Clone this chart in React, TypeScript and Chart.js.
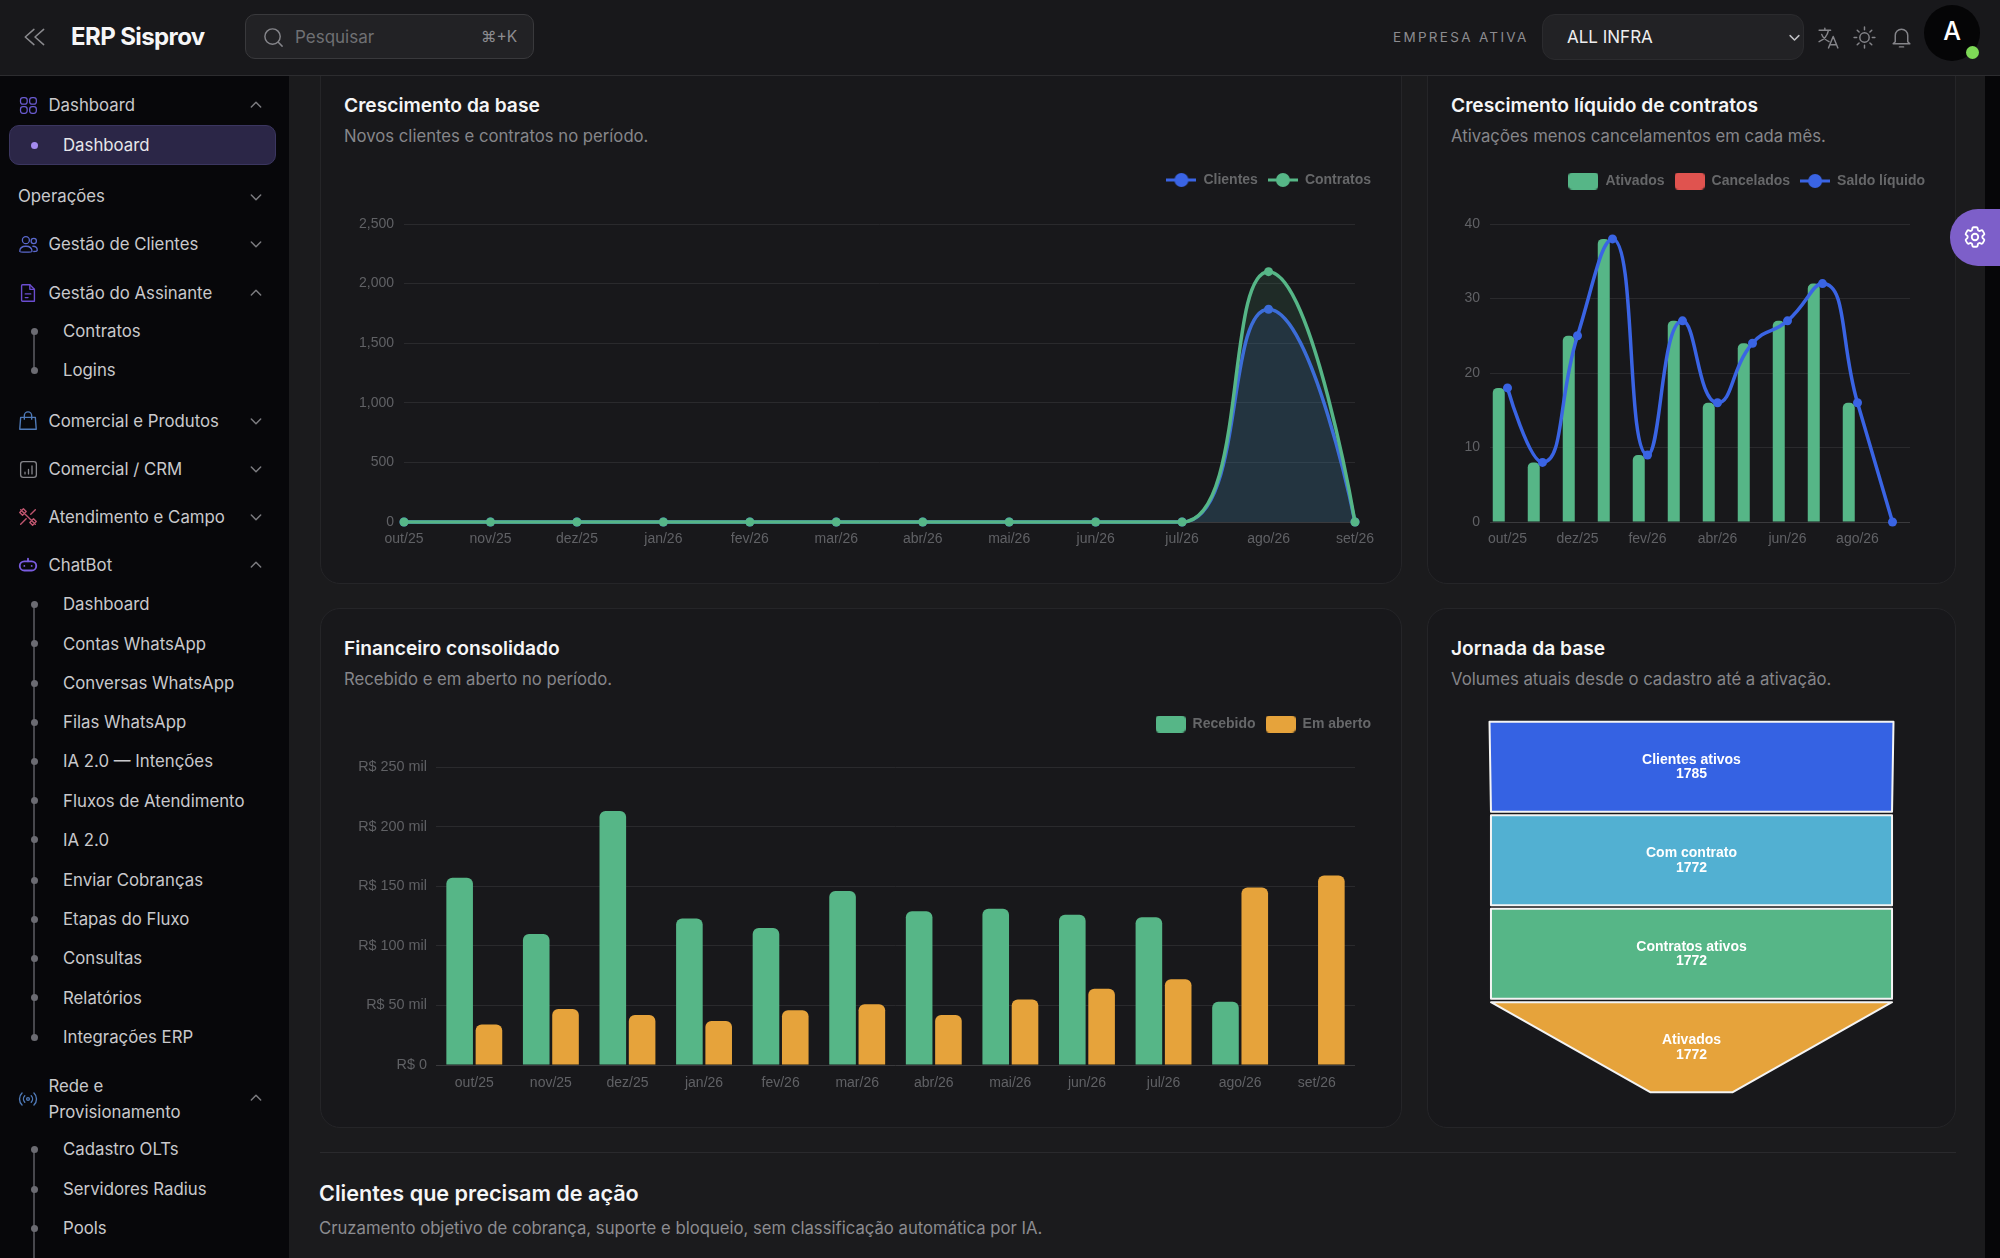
import React, { useEffect, useRef } from 'react';
import { Chart, registerables } from 'chart.js';

Chart.register(...registerables);

const months = ['out/25', 'nov/25', 'dez/25', 'jan/26', 'fev/26', 'mar/26', 'abr/26', 'mai/26', 'jun/26', 'jul/26', 'ago/26', 'set/26'];

const clientes = [0, 0, 0, 0, 0, 0, 0, 0, 0, 0, 1785, 0];
const contratos = [0, 0, 0, 0, 0, 0, 0, 0, 0, 0, 2100, 0];

const ativados = [18, 8, 25, 38, 9, 27, 16, 24, 27, 32, 16, 0];
const cancelados = [0, 0, 0, 0, 0, 0, 0, 0, 0, 0, 0, 0];
const saldoLiquido = [18, 8, 25, 38, 9, 27, 16, 24, 27, 32, 16, 0];

// R$ mil
const recebido = [157, 110, 213, 123, 115, 146, 129, 131, 126, 124, 53, null];
const emAberto = [34, 47, 42, 37, 46, 51, 42, 55, 64, 72, 149, 159];

const funnelLabels = ['Clientes ativos', 'Com contrato', 'Contratos ativos', 'Ativados'];
const funnelValues = [1785, 1772, 1772, 1772];
const funnelFloor = 361;

const BLUE = '#3a64e4';
const GREEN = '#56b687';
const ORANGE = '#e6a33b';
const RED = '#e0534f';
const SKY = '#52b0d2';
const funnelColors = ['#3562e3', SKY, GREEN, ORANGE];

const GRID = '#2a2a2d';
const AXIS = '#3a3a3d';
const TICK = '#606165';
const LEGEND = '#666769';
const CHART_FONT = "'Liberation Sans', Arial, sans-serif";
const UI_FONT = "Inter, 'Noto Sans', sans-serif";
const SMOOTH = 0.5;

function lineMark(color: string) {
  const c = document.createElement('canvas');
  c.width = 30;
  c.height = 16;
  const ctx = c.getContext('2d')!;
  ctx.strokeStyle = color;
  ctx.lineWidth = 3;
  ctx.beginPath();
  ctx.moveTo(0, 8);
  ctx.lineTo(30, 8);
  ctx.stroke();
  ctx.fillStyle = color;
  ctx.beginPath();
  ctx.arc(15, 8, 7, 0, Math.PI * 2);
  ctx.fill();
  return c;
}

function boxMark(color: string) {
  const c = document.createElement('canvas');
  c.width = 30;
  c.height = 17;
  const ctx = c.getContext('2d')!;
  ctx.fillStyle = color;
  ctx.beginPath();
  ctx.roundRect(0, 0, 30, 17, 4);
  ctx.fill();
  return c;
}

const legendOptions = {
  position: 'top' as const,
  align: 'end' as const,
  labels: {
    usePointStyle: true,
    pointStyleWidth: 30,
    padding: 10,
    color: LEGEND,
    font: { family: CHART_FONT, size: 14, weight: 'bold' as const },
    generateLabels: (chart: any) =>
      chart.data.datasets.map((d: any, i: number) => ({
        text: d.label,
        datasetIndex: i,
        fontColor: LEGEND,
        lineWidth: 0,
        hidden: false,
        pointStyle: d.type === 'line' ? lineMark(d.borderColor) : boxMark(d.backgroundColor),
      })),
  },
};

// the plot top is pushed down by the y scale padding, keep the legend at the canvas top
const legendOnTop = {
  id: 'legendOnTop',
  afterLayout(chart: any) {
    if (chart.legend) chart.legend.top = 0;
  },
};

const clamp = (v: number, a: number, b: number) => Math.max(Math.min(v, Math.max(a, b)), Math.min(a, b));

// the reference spline: control points split by segment length and kept between neighbours,
// first and last point have no handle on their open side
const roundCurves = {
  id: 'roundCurves',
  afterDatasetsUpdate(chart: any) {
    chart.data.datasets.forEach((d: any, i: number) => {
      if (d.type !== 'line') return;
      const meta = chart.getDatasetMeta(i);
      meta.dataset.updateControlPoints(chart.chartArea, 'x');
      const pts = meta.data;
      pts.forEach((p: any, k: number) => {
        const prev = pts[k - 1];
        const next = pts[k + 1];
        if (!prev || !next) {
          p.cp1x = p.cp2x = p.x;
          p.cp1y = p.cp2y = p.y;
          return;
        }
        const lenPrev = Math.hypot(p.x - prev.x, p.y - prev.y);
        const lenNext = Math.hypot(next.x - p.x, next.y - p.y);
        const ratio = lenNext / (lenNext + lenPrev);
        let outX = clamp(p.x + (next.x - prev.x) * SMOOTH * ratio, next.x, p.x);
        let outY = clamp(p.y + (next.y - prev.y) * SMOOTH * ratio, next.y, p.y);
        const inX = clamp(p.x - ((outX - p.x) * lenPrev) / lenNext, prev.x, p.x);
        const inY = clamp(p.y - ((outY - p.y) * lenPrev) / lenNext, prev.y, p.y);
        outX = p.x + ((p.x - inX) * lenNext) / lenPrev;
        outY = p.y + ((p.y - inY) * lenNext) / lenPrev;
        p.cp1x = inX;
        p.cp1y = inY;
        p.cp2x = outX;
        p.cp2y = outY;
      });
    });
  },
};

// pin the plot area inside the canvas, the numbers are px from each canvas edge
function axes(left: number, top: number, right: number, bottom: number, xExtra: any, yExtra: any) {
  return {
    x: {
      grid: { display: false, drawTicks: false },
      border: { display: false },
      afterFit: (s: any) => {
        s.height = bottom;
        s.paddingLeft = 0;
        s.paddingRight = right;
      },
      ...xExtra,
      ticks: { color: TICK, font: { family: CHART_FONT, size: 14 }, padding: 10, maxRotation: 0, autoSkip: false, ...xExtra.ticks },
    },
    y: {
      beginAtZero: true,
      border: { display: false },
      grid: {
        drawTicks: false,
        color: (c: any) => (c.tick.value === 0 ? AXIS : GRID),
      },
      afterFit: (s: any) => {
        s.width = left;
        s.paddingTop = top;
        s.paddingBottom = 0;
      },
      ...yExtra,
      ticks: { color: TICK, font: { family: CHART_FONT, size: 14 }, padding: 10, ...yExtra.ticks },
    },
  };
}

const baseOptions = {
  responsive: false,
  animation: false as const,
  plugins: { legend: legendOptions, tooltip: { enabled: false } },
};

function growthConfig(): any {
  const line = (label: string, data: number[], color: string, fill: string, order: number) => ({
    type: 'line',
    label,
    data,
    order,
    borderColor: color,
    backgroundColor: fill,
    fill: 'origin',
    borderWidth: 3.5,
    pointRadius: 4.5,
    pointBackgroundColor: color,
    pointBorderWidth: 0,
    cubicInterpolationMode: 'monotone',
    clip: false,
  });
  return {
    type: 'line',
    data: {
      labels: months,
      datasets: [
        line('Clientes', clientes, BLUE, 'rgba(58,100,228,0.14)', 2),
        line('Contratos', contratos, GREEN, 'rgba(86,182,135,0.12)', 1),
      ],
    },
    plugins: [legendOnTop, roundCurves],
    options: {
      ...baseOptions,
      scales: axes(60, 61, 26, 48, { ticks: { padding: 9 } }, {
        max: 2500,
        ticks: { stepSize: 500, callback: (v: number) => v.toLocaleString('en-US') },
      }),
    },
  };
}

function netConfig(): any {
  const bar = (label: string, data: number[], color: string) => ({
    type: 'bar',
    label,
    data,
    order: 1,
    backgroundColor: color,
    categoryPercentage: 1,
    barPercentage: 0.686,
    borderRadius: { topLeft: 5, topRight: 5, bottomLeft: 0, bottomRight: 0 },
    borderSkipped: false,
  });
  return {
    type: 'bar',
    data: {
      labels: months,
      datasets: [
        bar('Ativados', ativados, GREEN),
        bar('Cancelados', cancelados, RED),
        {
          type: 'line',
          label: 'Saldo líquido',
          data: saldoLiquido,
          order: 0,
          borderColor: BLUE,
          backgroundColor: BLUE,
          borderWidth: 3.5,
          pointRadius: 4.5,
          pointBorderWidth: 0,
          cubicInterpolationMode: 'monotone',
          clip: false,
        },
      ],
    },
    plugins: [legendOnTop, roundCurves],
    options: {
      ...baseOptions,
      scales: axes(39, 60, 25, 48, {
        ticks: { padding: 9, callback: (_: any, i: number) => (i % 2 ? '' : months[i]) },
      }, {
        max: 40,
        ticks: { stepSize: 10 },
      }),
    },
  };
}

function financeConfig(): any {
  const bar = (label: string, data: (number | null)[], color: string) => ({
    label,
    data,
    backgroundColor: color,
    categoryPercentage: 0.765,
    barPercentage: 0.908,
    borderRadius: { topLeft: 6, topRight: 6, bottomLeft: 0, bottomRight: 0 },
    borderSkipped: false,
  });
  return {
    type: 'bar',
    data: {
      labels: months,
      datasets: [bar('Recebido', recebido, GREEN), bar('Em aberto', emAberto, ORANGE)],
    },
    plugins: [legendOnTop],
    options: {
      ...baseOptions,
      scales: axes(92, 60, 26, 48, { ticks: {} }, {
        max: 250,
        ticks: {
          stepSize: 50,
          padding: 9,
          font: { family: CHART_FONT, size: 14.4 },
          callback: (v: number) => (v === 0 ? 'R$ 0' : `R$ ${v} mil`),
        },
      }),
    },
  };
}

// each funnel row goes from its own width to the width of the next row
const funnelShapes = {
  id: 'funnelShapes',
  afterDatasetsDraw(chart: any) {
    const { ctx, scales } = chart;
    const cx = scales.x.getPixelForValue(0);
    const half = (v: number) => scales.x.getPixelForValue(v / 2) - cx;
    chart.getDatasetMeta(0).data.forEach((el: any, i: number) => {
      const top = el.y - el.height / 2;
      const bottom = el.y + el.height / 2;
      const a = half(funnelValues[i]);
      const b = half(i < funnelValues.length - 1 ? funnelValues[i + 1] : funnelFloor);
      ctx.save();
      ctx.beginPath();
      ctx.moveTo(cx - a, top);
      ctx.lineTo(cx + a, top);
      ctx.lineTo(cx + b, bottom);
      ctx.lineTo(cx - b, bottom);
      ctx.closePath();
      ctx.fillStyle = funnelColors[i];
      ctx.fill();
      ctx.lineWidth = 2;
      ctx.lineJoin = 'round';
      ctx.strokeStyle = '#f4f4f4';
      ctx.stroke();
      ctx.fillStyle = '#ffffff';
      ctx.font = `bold 14px ${CHART_FONT}`;
      ctx.textAlign = 'center';
      ctx.textBaseline = 'middle';
      ctx.fillText(funnelLabels[i], cx, el.y - 6.8);
      ctx.fillText(String(funnelValues[i]), cx, el.y + 7.8);
      ctx.restore();
    });
  },
};

function funnelConfig(): any {
  return {
    type: 'bar',
    data: {
      labels: funnelLabels,
      datasets: [
        {
          label: 'Jornada da base',
          data: funnelValues.map((v) => [-v / 2, v / 2]),
          backgroundColor: 'transparent',
          categoryPercentage: 1,
          barPercentage: 0.964,
        },
      ],
    },
    plugins: [funnelShapes],
    options: {
      responsive: false,
      animation: false,
      indexAxis: 'y',
      layout: { padding: { left: 9.5, right: 9.5, top: 10, bottom: 10 } },
      plugins: { legend: { display: false }, tooltip: { enabled: false } },
      scales: {
        x: { display: false, min: -funnelValues[0] / 2, max: funnelValues[0] / 2 },
        y: { display: false },
      },
    },
  };
}

function ChartBox({ x, y, w, h, config }: { x: number; y: number; w: number; h: number; config: () => any }) {
  const ref = useRef<HTMLCanvasElement | null>(null);
  useEffect(() => {
    if (!ref.current) return;
    const chart = new Chart(ref.current, config());
    return () => chart.destroy();
  }, [config]);
  return <canvas ref={ref} width={w} height={h} style={{ position: 'absolute', left: x, top: y, width: w, height: h }} />;
}

function T({ x, y, size = 16.8, color = '#c9c9cc', weight = 400, spacing, children }: any) {
  return (
    <div
      style={{
        position: 'absolute',
        left: x,
        top: y,
        transform: 'translateY(-50%)',
        fontFamily: UI_FONT,
        fontSize: size,
        fontWeight: weight,
        color,
        letterSpacing: spacing,
        whiteSpace: 'nowrap',
        lineHeight: 1.2,
      }}
    >
      {children}
    </div>
  );
}

function Icon({ x, y, s = 24, color, width = 1.5, children }: any) {
  return (
    <svg
      style={{ position: 'absolute', left: x - s / 2, top: y - s / 2 }}
      width={s}
      height={s}
      viewBox="0 0 24 24"
      fill="none"
      stroke={color}
      strokeWidth={width}
      strokeLinecap="round"
      strokeLinejoin="round"
    >
      {children}
    </svg>
  );
}

function Chevron({ y, up }: { y: number; up?: boolean }) {
  return (
    <Icon x={256} y={y} s={16} color="#7c7c80">
      <path d={up ? 'M5 15l7-7 7 7' : 'M5 9l7 7 7-7'} strokeWidth={2.2} />
    </Icon>
  );
}

function Group({ y, label, up, icon }: any) {
  return (
    <>
      {icon}
      <T x={48.5} y={y + 0.2}>{label}</T>
      <Chevron y={y} up={up} />
    </>
  );
}

function Sub({ y, label }: { y: number; label: string }) {
  return (
    <>
      <div style={{ position: 'absolute', left: 30.5, top: y - 3.5, width: 7, height: 7, borderRadius: 4, background: '#6b6b72' }} />
      <T x={63} y={y + 0.2}>{label}</T>
    </>
  );
}

function Rail({ from, to }: { from: number; to: number }) {
  return <div style={{ position: 'absolute', left: 33, top: from, width: 2, height: to - from, background: '#47474d' }} />;
}

function Card({ x, y, w, h, title, sub }: any) {
  return (
    <>
      <div
        style={{
          position: 'absolute',
          left: x,
          top: y,
          width: w,
          height: h,
          boxSizing: 'border-box',
          background: '#18181b',
          border: '1px solid #252528',
          borderRadius: 20,
        }}
      />
      <T x={x + 24} y={y < 75 ? 105.5 : y + 40.5} size={19.2} color="#f5f5f6" weight={600}>{title}</T>
      <T x={x + 24} y={y < 75 ? 135.5 : y + 71} size={16.7} color="#86868a">{sub}</T>
    </>
  );
}

function Menu() {
  return (
    <>
      <Group y={105} label="Dashboard" up icon={
        <Icon x={28} y={105} s={20} color="#6a5bd0"><rect x="3" y="3" width="8" height="8" rx="3" /><rect x="14" y="3" width="8" height="8" rx="3" /><rect x="3" y="14" width="8" height="8" rx="3" /><rect x="14" y="14" width="8" height="8" rx="3" /></Icon>
      } />
      <div style={{ position: 'absolute', left: 9, top: 125, width: 267, height: 40, boxSizing: 'border-box', borderRadius: 10, background: '#2b2647', border: '1px solid #3b3660' }} />
      <div style={{ position: 'absolute', left: 30.5, top: 141.5, width: 7, height: 7, borderRadius: 4, background: '#a48bf0' }} />
      <T x={63} y={145} color="#e6e6ea">Dashboard</T>

      <T x={18} y={196}>Operações</T>
      <Chevron y={197} />

      <Group y={244} label="Gestão de Clientes" icon={
        <Icon x={28} y={244} s={21} color="#5a68cc"><circle cx="9" cy="7" r="4" /><circle cx="18" cy="8" r="3" /><path d="M2 20c0-4 3-6 7-6s7 2 7 6c0 1-14 1-14 0z" /><path d="M17 14c3 0 5 2 5 4.5 0 1-2 1.5-4 1.5" /></Icon>
      } />
      <Group y={292.5} label="Gestão do Assinante" up icon={
        <Icon x={28} y={292.5} s={22} color="#6b4dd0"><path d="M6 3h8l5 5v13H6a1 1 0 0 1-1-1V4a1 1 0 0 1 1-1z" /><path d="M14 3v5h5M9 13h6M9 17h3" /></Icon>
      } />
      <Rail from={331} to={370} />
      <Sub y={331} label="Contratos" />
      <Sub y={370} label="Logins" />

      <Group y={420.5} label="Comercial e Produtos" icon={
        <Icon x={28} y={420.5} s={22} color="#4f7ab8"><path d="M4 8h16l1 13H3L4 8z" /><path d="M8 10V6a4 4 0 0 1 8 0v4" /></Icon>
      } />
      <Group y={469} label="Comercial / CRM" icon={
        <Icon x={28} y={469} s={21} color="#85858a"><rect x="3" y="3" width="18" height="18" rx="3" /><path d="M8 17v-2M12 17v-5M16 17V8" /></Icon>
      } />
      <Group y={517} label="Atendimento e Campo" icon={
        <Icon x={28} y={517} s={22} color="#c0566f"><path d="M4 4l16 16M20 4l-5 5M4 20l6-6M3 7l4-4 3 3-4 4zM17 21l4-4-3-3-4 4z" /></Icon>
      } />
      <Group y={565} label="ChatBot" up icon={
        <Icon x={28} y={565} s={22} color="#7a5ce0" width={2}><rect x="3" y="8" width="18" height="10" rx="5" /><path d="M12 5v3M8 13h.01M16 13h.01" /></Icon>
      } />
      <Rail from={604} to={1037} />
      <Sub y={604} label="Dashboard" />
      <Sub y={643.5} label="Contas WhatsApp" />
      <Sub y={683} label="Conversas WhatsApp" />
      <Sub y={722} label="Filas WhatsApp" />
      <Sub y={761} label="IA 2.0 — Intenções" />
      <Sub y={800.5} label="Fluxos de Atendimento" />
      <Sub y={839.5} label="IA 2.0" />
      <Sub y={880} label="Enviar Cobranças" />
      <Sub y={919} label="Etapas do Fluxo" />
      <Sub y={958} label="Consultas" />
      <Sub y={997.5} label="Relatórios" />
      <Sub y={1037} label="Integrações ERP" />

      <Icon x={28} y={1099} s={22} color="#4f7ab8"><circle cx="12" cy="12" r="1.5" /><path d="M8.5 8.5a5 5 0 0 0 0 7M15.5 8.5a5 5 0 0 1 0 7M5.5 5.5a9 9 0 0 0 0 13M18.5 5.5a9 9 0 0 1 0 13" /></Icon>
      <T x={48.5} y={1086}>Rede e</T>
      <T x={48.5} y={1111.5}>Provisionamento</T>
      <Chevron y={1098} up />
      <Rail from={1149} to={1258} />
      <Sub y={1149} label="Cadastro OLTs" />
      <Sub y={1189} label="Servidores Radius" />
      <Sub y={1228} label="Pools" />
    </>
  );
}

function Header() {
  return (
    <>
      <div style={{ position: 'absolute', left: 0, top: 0, width: 2000, height: 76, boxSizing: 'border-box', background: '#18181b', borderBottom: '1px solid #2c2c2f' }} />
      <Icon x={35} y={37} s={26} color="#8a8a8e" width={1.4}><path d="M11 5l-8 7 8 7M20 5l-8 7 8 7" /></Icon>
      <T x={71} y={37} size={24} color="#f6f6f7" weight={700} spacing={-0.6}>ERP Sisprov</T>
      <div style={{ position: 'absolute', left: 245, top: 14, width: 289, height: 45, boxSizing: 'border-box', borderRadius: 10, background: '#222225', border: '1px solid #39393c' }} />
      <Icon x={273} y={37} s={23} color="#85858a"><circle cx="11" cy="11" r="8" /><path d="M17 17l4 4" /></Icon>
      <T x={295} y={36.5} size={17} color="#6f7073">Pesquisar</T>
      <T x={481} y={37} size={15.5} color="#8c8c90">⌘+K</T>

      <T x={1393} y={36.5} size={13.5} color="#8c8c90" spacing={2.3}>EMPRESA ATIVA</T>
      <div style={{ position: 'absolute', left: 1542, top: 14, width: 262, height: 46, boxSizing: 'border-box', borderRadius: 13, background: '#222225', border: '1px solid #2b2b2e' }} />
      <T x={1567} y={37} size={17} color="#eeeeef">ALL INFRA</T>
      <Icon x={1794} y={37} s={15} color="#c0c0c4"><path d="M5 9l7 7 7-7" strokeWidth={2.4} /></Icon>
      <Icon x={1828} y={37} s={25} color="#85858a" width={1.4}><path d="M3 5h11M8.5 3v2M12 5c-1 5-4 9-9 11M5.5 9c1 3 3 5 7 7M12 22l4.5-11L21 22M13.5 19h6" /></Icon>
      <Icon x={1864} y={37} s={25} color="#85858a" width={1.4}><circle cx="12" cy="12" r="4.5" /><path d="M12 2v2.5M12 19.5V22M2 12h2.5M19.5 12H22M5 5l1.8 1.8M17.2 17.2L19 19M5 19l1.8-1.8M17.2 6.8L19 5" /></Icon>
      <Icon x={1901} y={37} s={25} color="#85858a" width={1.4}><path d="M6 16V10a6 6 0 0 1 12 0v6l2 2H4l2-2zM10 21h4" /></Icon>
      <div style={{ position: 'absolute', left: 1924, top: 5, width: 56, height: 56, borderRadius: 28, background: '#050506' }} />
      <div style={{ position: 'absolute', left: 1924, top: 31, width: 56, textAlign: 'center', transform: 'translateY(-50%)', fontFamily: UI_FONT, fontSize: 25, fontWeight: 500, color: '#fff' }}>A</div>
      <div style={{ position: 'absolute', left: 1965.5, top: 46, width: 13, height: 13, borderRadius: 7, background: '#7ed957' }} />
    </>
  );
}

export default function App() {
  return (
    <div style={{ position: 'absolute', left: 0, top: 0, width: 2000, height: 1258, overflow: 'hidden', background: '#1b1b1d' }}>
      <div style={{ position: 'absolute', left: 0, top: 75, width: 289, height: 1183, background: '#07070a' }} />
      <div style={{ position: 'absolute', left: 1985, top: 75, width: 15, height: 1183, background: '#060608' }} />

      <Card x={320} y={50} w={1082} h={534} title="Crescimento da base" sub="Novos clientes e contratos no período." />
      <Card x={1427} y={50} w={529} h={534} title="Crescimento líquido de contratos" sub="Ativações menos cancelamentos em cada mês." />
      <Card x={320} y={608} w={1082} h={520} title="Financeiro consolidado" sub="Recebido e em aberto no período." />
      <Card x={1427} y={608} w={529} h={520} title="Jornada da base" sub="Volumes atuais desde o cadastro até a ativação." />

      <ChartBox x={344} y={163} w={1037} h={407} config={growthConfig} />
      <ChartBox x={1451} y={164} w={484} h={406} config={netConfig} />
      <ChartBox x={344} y={707} w={1037} h={406} config={financeConfig} />
      <ChartBox x={1480} y={710} w={423} h={394} config={funnelConfig} />

      <div style={{ position: 'absolute', left: 320, top: 1152, width: 1636, height: 1, background: '#2a2a2d' }} />
      <T x={319} y={1193.5} size={21.6} color="#f5f5f6" weight={600}>Clientes que precisam de ação</T>
      <T x={319} y={1228} size={16.7} color="#8c8c90">Cruzamento objetivo de cobrança, suporte e bloqueio, sem classificação automática por IA.</T>

      <Header />
      <Menu />

      <div style={{ position: 'absolute', left: 1950, top: 209, width: 50, height: 57, borderRadius: '28px 0 0 28px', background: '#7d5fc9' }} />
      <Icon x={1975} y={237} s={26} color="#ffffff" width={1.7}>
        <path d="M9.594 3.94c.09-.542.56-.94 1.11-.94h2.593c.55 0 1.02.398 1.11.94l.213 1.281c.063.374.313.686.645.87.074.04.147.083.22.127.325.196.72.257 1.075.124l1.217-.456a1.125 1.125 0 0 1 1.37.49l1.296 2.247a1.125 1.125 0 0 1-.26 1.431l-1.003.827c-.293.241-.438.613-.43.992a7.723 7.723 0 0 1 0 .255c-.008.378.137.75.43.991l1.004.827c.424.35.534.955.26 1.43l-1.298 2.247a1.125 1.125 0 0 1-1.369.491l-1.217-.456c-.355-.133-.75-.072-1.076.124a6.47 6.47 0 0 1-.22.128c-.331.183-.581.495-.644.869l-.213 1.281c-.09.543-.56.94-1.11.94h-2.594c-.55 0-1.019-.398-1.11-.94l-.213-1.281c-.062-.374-.312-.686-.644-.87a6.52 6.52 0 0 1-.22-.127c-.325-.196-.72-.257-1.076-.124l-1.217.456a1.125 1.125 0 0 1-1.369-.49l-1.297-2.247a1.125 1.125 0 0 1 .26-1.431l1.004-.827c.292-.24.437-.613.43-.991a6.932 6.932 0 0 1 0-.255c.007-.38-.138-.751-.43-.992l-1.004-.827a1.125 1.125 0 0 1-.26-1.43l1.297-2.247a1.125 1.125 0 0 1 1.37-.491l1.216.456c.356.133.751.072 1.076-.124.072-.044.146-.086.22-.128.332-.183.582-.495.644-.869l.214-1.28Z" />
        <circle cx="12" cy="12" r="3" />
      </Icon>
    </div>
  );
}
